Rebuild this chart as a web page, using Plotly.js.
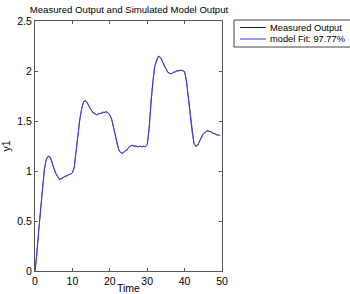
<!DOCTYPE html>
<html>
<head>
<meta charset="utf-8">
<script src="https://cdn.plot.ly/plotly-3.0.1.min.js"></script>
<style>html,body{margin:0;padding:0;background:#fff;overflow:hidden}#chart{width:350px;height:294px}</style>
</head>
<body>
<div id="chart"></div>
<script>
var time = [0,0.5,1,1.5,2,2.5,3,3.5,4,4.5,5,5.5,6,6.5,7,7.5,8,8.5,9,9.5,
  10,10.5,11,11.5,12,12.5,13,13.5,14,14.5,15,15.5,16,16.5,17,17.5,18,18.5,19,19.5,
  20,20.5,21,21.5,22,22.5,23,23.5,24,24.5,25,25.5,26,26.5,27,27.5,28,28.5,29,29.5,
  30,30.5,31,31.5,32,32.5,33,33.5,34,34.5,35,35.5,36,36.5,37,37.5,38,38.5,39,39.5,
  40,40.5,41,41.5,42,42.5,43,43.5,44,44.5,45,45.5,46,46.5,47,47.5,48,48.5,49,49.5];

var modelOutput = [0,0.17,0.40,0.62,0.85,1.02,1.11,1.15,1.14,1.10,
  1.03,0.98,0.945,0.92,0.92,0.935,0.945,0.955,0.96,0.97,
  0.98,1.04,1.20,1.38,1.52,1.63,1.69,1.705,1.68,1.645,
  1.61,1.585,1.57,1.565,1.57,1.58,1.585,1.59,1.59,1.585,
  1.56,1.52,1.43,1.34,1.26,1.205,1.18,1.18,1.195,1.21,
  1.23,1.25,1.255,1.25,1.245,1.245,1.245,1.245,1.245,1.245,
  1.26,1.42,1.70,1.90,2.04,2.11,2.145,2.14,2.10,2.055,
  2.02,1.99,1.975,1.975,1.985,1.995,2.0,2.005,2.005,2.005,
  1.99,1.90,1.73,1.55,1.39,1.28,1.245,1.26,1.295,1.34,
  1.37,1.39,1.40,1.40,1.39,1.38,1.37,1.365,1.36,1.355];

var measuredOutput = [0,0.16,0.41,0.61,0.86,1.01,1.12,1.145,1.145,1.095,
  1.035,0.975,0.95,0.915,0.925,0.93,0.95,0.95,0.965,0.965,
  0.985,1.035,1.205,1.375,1.525,1.625,1.695,1.70,1.685,1.64,
  1.615,1.58,1.575,1.56,1.575,1.575,1.59,1.585,1.595,1.58,
  1.565,1.515,1.435,1.335,1.265,1.20,1.185,1.175,1.20,1.205,
  1.235,1.245,1.26,1.245,1.25,1.24,1.25,1.24,1.25,1.24,
  1.265,1.415,1.705,1.895,2.045,2.105,2.15,2.135,2.105,2.05,
  2.025,1.985,1.98,1.97,1.99,1.99,2.005,2.0,2.01,2.0,
  1.995,1.895,1.735,1.545,1.395,1.275,1.25,1.255,1.30,1.335,
  1.375,1.385,1.405,1.395,1.395,1.375,1.375,1.36,1.365,1.35];

var seriesNames = ['Measured Output', 'model Fit: 97.77%'];
var seriesColors = ['#222222', '#3333ff'];
var xTicks = [0,10,20,30,40,50];
var yTicks = [0,0.5,1,1.5,2,2.5];
var yTickText = ['0','0.5','1','1.5','2','2.5'];

var FONT = '"Liberation Sans", Arial, sans-serif';

var traces = [
  {x: time, y: measuredOutput, type: 'scatter', mode: 'lines',
   name: seriesNames[0], line: {color: seriesColors[0], width: 0.8}},
  {x: time, y: modelOutput, type: 'scatter', mode: 'lines',
   name: seriesNames[1], line: {color: seriesColors[1], width: 0.9}}
];

var axisCommon = {
  showgrid: false, zeroline: false, showline: true, mirror: 'ticks',
  linecolor: '#555', linewidth: 1, ticks: 'inside', ticklen: 3, tickcolor: '#555',
  tickfont: {family: FONT, size: 10.5, color: '#000'}
};

// Plot area in pixels: left 35, right 222, top 21, bottom 271
var L = 35, R = 222, T = 21, B = 271;
function px(p) { return (p - L) / (R - L); }
function py(p) { return (B - p) / (B - T); }

// Compact MATLAB-style legend box
var shapes = [
  {type: 'rect', xref: 'paper', yref: 'paper', x0: px(234), x1: px(360), y0: py(47), y1: py(20),
   line: {color: '#444', width: 1}, fillcolor: '#fff', layer: 'above'}
];
var annotations = [];
var rowsY = [27.5, 39];
for (var i = 0; i < seriesNames.length; i++) {
  shapes.push({type: 'line', xref: 'paper', yref: 'paper', x0: px(240), x1: px(266),
    y0: py(rowsY[i]), y1: py(rowsY[i]), line: {color: seriesColors[i], width: 1}, layer: 'above'});
  annotations.push({xref: 'paper', yref: 'paper', x: px(268), y: py(rowsY[i]),
    xanchor: 'left', yanchor: 'middle', showarrow: false, text: seriesNames[i],
    font: {family: FONT, size: 9.3, color: '#000'}});
}

var layout = {
  width: 350, height: 294,
  margin: {l: L, r: 350 - R, t: T, b: 294 - B, autoexpand: false},
  paper_bgcolor: '#fff', plot_bgcolor: '#fff',
  font: {family: FONT, size: 10, color: '#000'},
  title: {text: 'Measured Output and Simulated Model Output', font: {family: FONT, size: 9.6},
          x: 129/350, xref: 'container', xanchor: 'center', y: (294-9.5)/294, yref: 'container', yanchor: 'middle'},
  xaxis: Object.assign({}, axisCommon, {range: [0, 50], tickvals: xTicks,
          title: {text: 'Time', standoff: 8, font: {family: FONT, size: 10.5}}}),
  yaxis: Object.assign({}, axisCommon, {range: [0, 2.5], tickvals: yTicks, ticktext: yTickText,
          title: {text: 'y1', standoff: 4, font: {family: FONT, size: 10.5}}}),
  showlegend: false,
  shapes: shapes,
  annotations: annotations
};

Plotly.newPlot('chart', traces, layout, {staticPlot: true, displayModeBar: false});
</script>
</body>
</html>
